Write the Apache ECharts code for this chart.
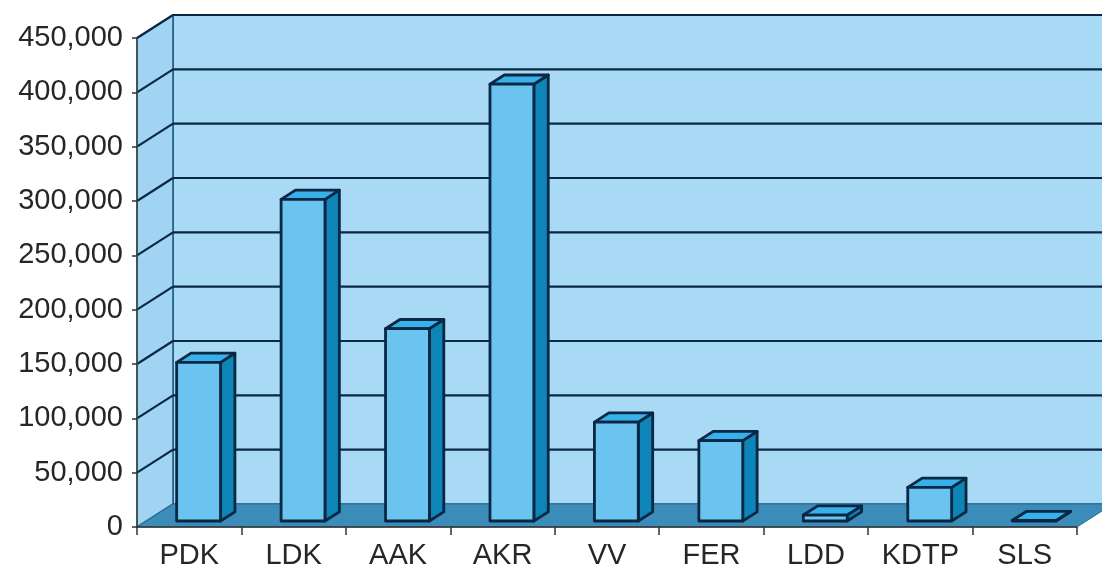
<!DOCTYPE html>
<html>
<head>
<meta charset="utf-8">
<script src="https://cdn.jsdelivr.net/npm/echarts@6/dist/echarts.min.js"></script>
<style>
  html, body { margin: 0; padding: 0; background: #fff; }
  #chart { width: 1102px; height: 572px; }
</style>
</head>
<body>
<div id="chart"></div>
<script>
const categories = ['PDK', 'LDK', 'AAK', 'AKR', 'VV', 'FER', 'LDD', 'KDTP', 'SLS'];
const values = [146000, 296000, 177000, 402000, 91000, 74000, 5500, 31000, 500];
const yTicks = [50000, 100000, 150000, 200000, 250000, 300000, 350000, 400000, 450000];

// oblique depth of the box the chart sits in
const DEPTH_X = 36;
const DEPTH_Y = -23;
// bars sit between these depth fractions
const BAR_FRONT = 0.26;
const BAR_BACK = 0.66;
const EDGE = '#0a2744';

const font = '"Liberation Sans", Arial, sans-serif';

function renderWalls(params, api) {
  const cs = params.coordSys;
  const x = cs.x, y = cs.y, w = cs.width, h = cs.height;
  const b = y + h;
  return {
    type: 'group',
    children: [
      {
        type: 'polygon',
        shape: { points: [[x + DEPTH_X, y + DEPTH_Y], [x + w + DEPTH_X, y + DEPTH_Y], [x + w + DEPTH_X, b + DEPTH_Y], [x + DEPTH_X, b + DEPTH_Y]] },
        style: { fill: '#a8d9f5', stroke: '#1d5a80', lineWidth: 1.5 }
      },
      {
        type: 'polygon',
        shape: { points: [[x, y], [x + DEPTH_X, y + DEPTH_Y], [x + DEPTH_X, b + DEPTH_Y], [x, b]] },
        style: { fill: '#a0d4f2', stroke: '#1d5a80', lineWidth: 1.5 }
      },
      {
        type: 'polygon',
        shape: { points: [[x, b], [x + w, b], [x + w + DEPTH_X, b + DEPTH_Y], [x + DEPTH_X, b + DEPTH_Y]] },
        style: { fill: '#3b8cb8', stroke: '#2a6f96', lineWidth: 1 }
      }
    ]
  };
}

function renderGrid(params, api) {
  const cs = params.coordSys;
  const v = api.value(0);
  const yv = api.coord([0, v])[1];
  const x = cs.x, w = cs.width;
  const style = { stroke: EDGE, lineWidth: 2.2 };
  return {
    type: 'group',
    children: [
      { type: 'line', shape: { x1: x + DEPTH_X, y1: yv + DEPTH_Y, x2: x + w + DEPTH_X, y2: yv + DEPTH_Y }, style: style },
      { type: 'line', shape: { x1: x, y1: yv, x2: x + DEPTH_X, y2: yv + DEPTH_Y }, style: style }
    ]
  };
}

function renderBar(params, api) {
  const i = api.value(0);
  const v = api.value(1);
  const base = api.coord([i, 0]);
  const top = api.coord([i, v]);
  const bw = api.size([1, 0])[0] * 0.42;
  const ox = DEPTH_X * BAR_FRONT, oy = DEPTH_Y * BAR_FRONT;
  const dx = DEPTH_X * (BAR_BACK - BAR_FRONT), dy = DEPTH_Y * (BAR_BACK - BAR_FRONT);
  const x0 = base[0] - bw / 2 + ox, x1 = base[0] + bw / 2 + ox;
  const yb = base[1] + oy, yt = top[1] + oy;
  const edge = { stroke: EDGE, lineWidth: 2.8, lineJoin: 'round' };
  return {
    type: 'group',
    children: [
      { type: 'polygon', shape: { points: [[x1, yt], [x1 + dx, yt + dy], [x1 + dx, yb + dy], [x1, yb]] }, style: Object.assign({ fill: '#0d85b6' }, edge) },
      { type: 'polygon', shape: { points: [[x0, yt], [x1, yt], [x1 + dx, yt + dy], [x0 + dx, yt + dy]] }, style: Object.assign({ fill: '#38b1ea' }, edge) },
      { type: 'rect', shape: { x: x0, y: yt, width: x1 - x0, height: yb - yt }, style: Object.assign({ fill: '#6bc3ef' }, edge) }
    ]
  };
}

const chart = echarts.init(document.getElementById('chart'));
chart.setOption({
  animation: false,
  backgroundColor: '#ffffff',
  grid: { left: 137, right: 25, top: 38, bottom: 45 },
  xAxis: {
    type: 'category',
    data: categories,
    axisLine: { show: true, lineStyle: { color: '#333', width: 1.5 } },
    axisTick: { show: true, length: 8, lineStyle: { color: '#333', width: 1.5 } },
    axisLabel: { color: '#262626', fontSize: 29, fontFamily: font, margin: 14 },
    splitLine: { show: false },
    z: 10
  },
  yAxis: {
    type: 'value',
    min: 0,
    max: 450000,
    interval: 50000,
    axisLine: { show: true, lineStyle: { color: '#3a4a44', width: 1.5 } },
    axisTick: { show: true, length: 5, lineStyle: { color: '#333', width: 1.5 } },
    axisLabel: {
      color: '#262626', fontSize: 29, fontFamily: font, margin: 14,
      formatter: v => v.toLocaleString('en-US')
    },
    splitLine: { show: false },
    z: 10
  },
  series: [
    { type: 'custom', renderItem: renderWalls, data: [0], z: 1, silent: true },
    { type: 'custom', renderItem: renderGrid, data: yTicks.map(v => [v]), z: 2, silent: true },
    {
      type: 'custom',
      renderItem: renderBar,
      data: values.map((v, i) => [i, v]),
      encode: { x: 0, y: 1 },
      z: 3
    }
  ]
});
</script>
</body>
</html>
